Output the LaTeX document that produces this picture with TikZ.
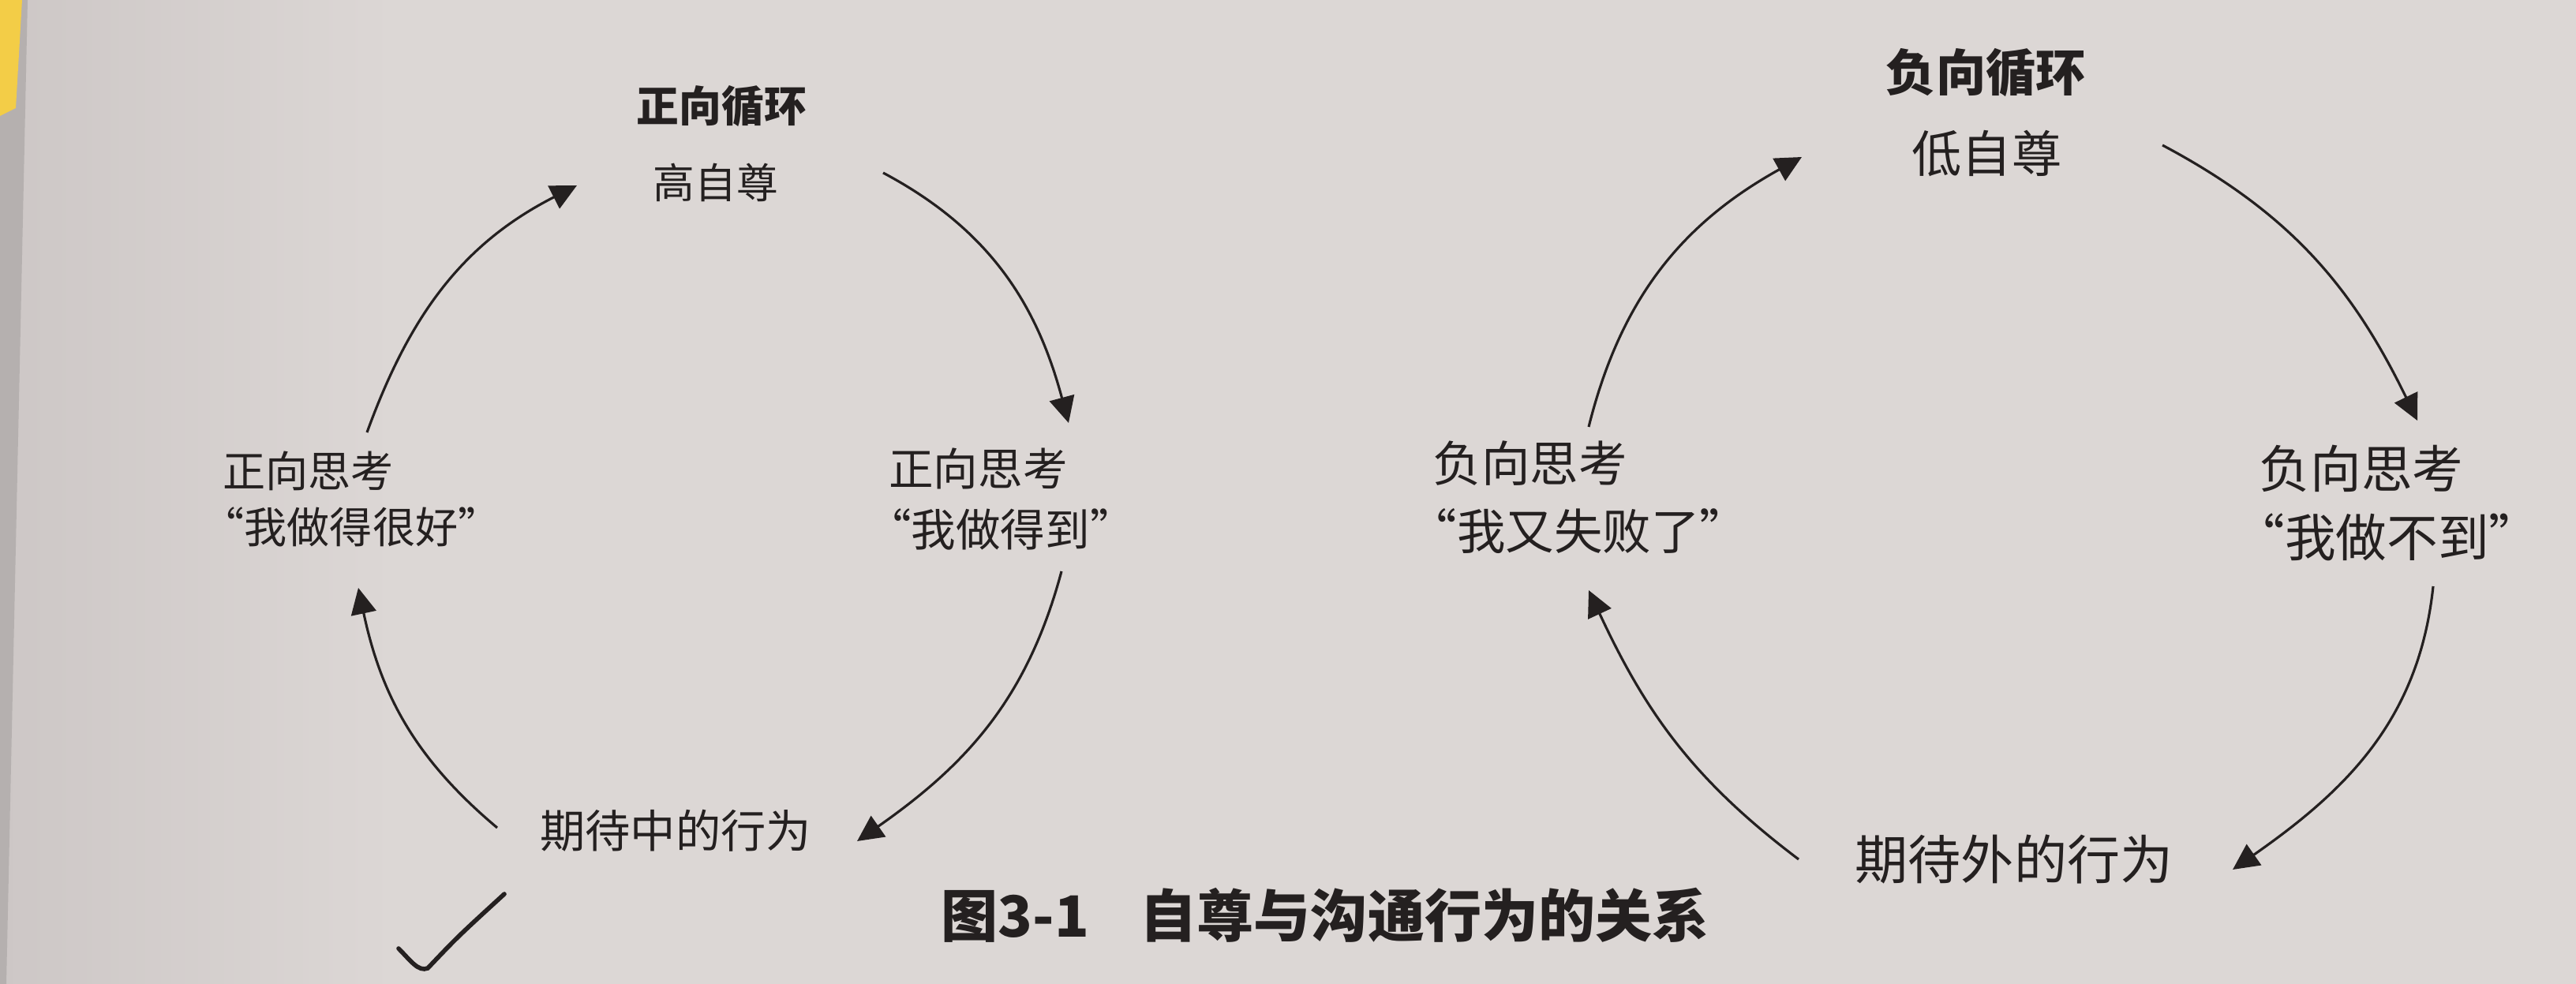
\documentclass[tikz,border=0pt]{standalone}
\usepackage{fontspec}
\usepackage{tikz}
\usetikzlibrary{arrows.meta}
\newfontfamily\cjk{Noto Sans CJK SC}
\newcommand\sz[2]{\cjk\fontsize{#1}{#2}\selectfont}
\newcommand\openq{\hspace{-0.5em}“}
\newcommand\closeq{”\hspace{-0.5em}}
\definecolor{paper}{RGB}{220,215,213}
\definecolor{paperdk}{RGB}{205,199,198}
\definecolor{ink}{RGB}{36,32,32}

\begin{document}
\begin{tikzpicture}
				[word/.style={inner sep=0pt, align=left, text=ink},
				 arr/.style={draw=ink, line width=0.9pt, -{Triangle[length=3.3mm,width=3.2mm]}}]
				\useasboundingbox (0,0) rectangle (32.64,12.47);
				\fill[paper] (0,0) rectangle (32.64,12.47);
				\shade[left color=paperdk, right color=paper] (0,0) rectangle (5,12.47);
				\fill[paperdk!80!black!70!paper] (0,0) -- (0.08,0) -- (0.35,12.47) -- (0,12.47) -- cycle;
				\fill[yellow!60!orange!70!paper] (0,12.47) -- (0.28,12.47) -- (0.2,11.1) -- (0,11.0) -- cycle;
				\node[word, font=\sz{15.3}{18}\bfseries] (pt) at (9.145,11.12) {正向循环};
				\node[word, font=\sz{15}{18}] (hi) at (9.07,10.16) {高自尊};
				\node[word, font=\sz{15.4}{20.2}] (lt) at (4.585,6.145) {正向思考\\\openq 我做得很好\closeq};
				\node[word, font=\sz{16.1}{21.9}] (rt) at (12.82,6.145) {正向思考\\\openq 我做得到\closeq};
				\node[word, font=\sz{16.3}{20}] (mid) at (8.56,1.94) {期待中的行为};
				\node[word, font=\sz{18}{22}\bfseries] (nt) at (25.165,11.55) {负向循环};
				\node[word, font=\sz{18}{22}] (lo) at (25.175,10.52) {低自尊};
				\node[word, font=\sz{17.5}{24.4}] (ln) at (20.155,6.17) {负向思考\\\openq 我又失败了\closeq};
				\node[word, font=\sz{18.4}{24.7}] (rn) at (30.405,6.095) {负向思考\\\openq 我做不到\closeq};
				\node[word, font=\sz{19.1}{23}] (mid2) at (25.52,1.58) {期待外的行为};
				\node[word, font=\sz{20.5}{24}\bfseries] (cap) at (16.79,0.87) {图3-1\hspace{0.9em}自尊与沟通行为的关系};
				\draw[arr] ([shift={(0.065,0.845)}]lt.center) to[out=70,in=207] ([shift={(-1.76,-0.04)}]hi.center);
				\draw[arr] ([shift={(2.12,0.12)}]hi.center) to[out=-28,in=105] ([shift={(0.72,0.965)}]rt.center);
				\draw[arr] ([shift={(0.63,-0.915)}]rt.center) to[out=255,in=35] ([shift={(2.30,-0.13)}]mid.center);
				\draw[arr] ([shift={(-2.26,0.04)}]mid.center) to[out=140,in=-78] ([shift={(-0.045,-1.125)}]lt.center);
				\draw[arr] ([shift={(-0.025,0.89)}]ln.center) to[out=76,in=209] ([shift={(-2.345,-0.04)}]lo.center);
				\draw[arr] ([shift={(2.225,0.11)}]lo.center) to[out=-28,in=116] ([shift={(0.225,1.045)}]rn.center);
				\draw[arr] ([shift={(0.425,-1.055)}]rn.center) to[out=264,in=35] ([shift={(2.77,-0.13)}]mid2.center);
				\draw[arr] ([shift={(-2.73,0)}]mid2.center) to[out=143,in=-65] ([shift={(-0.025,-1.18)}]ln.center);
				\draw[ink, line width=1.6pt, line cap=round] (5.05,0.45) .. controls (5.2,0.3) and (5.3,0.15) .. (5.42,0.2) .. controls (5.8,0.6) .. (6.39,1.14);
			\end{tikzpicture}
\end{document}
